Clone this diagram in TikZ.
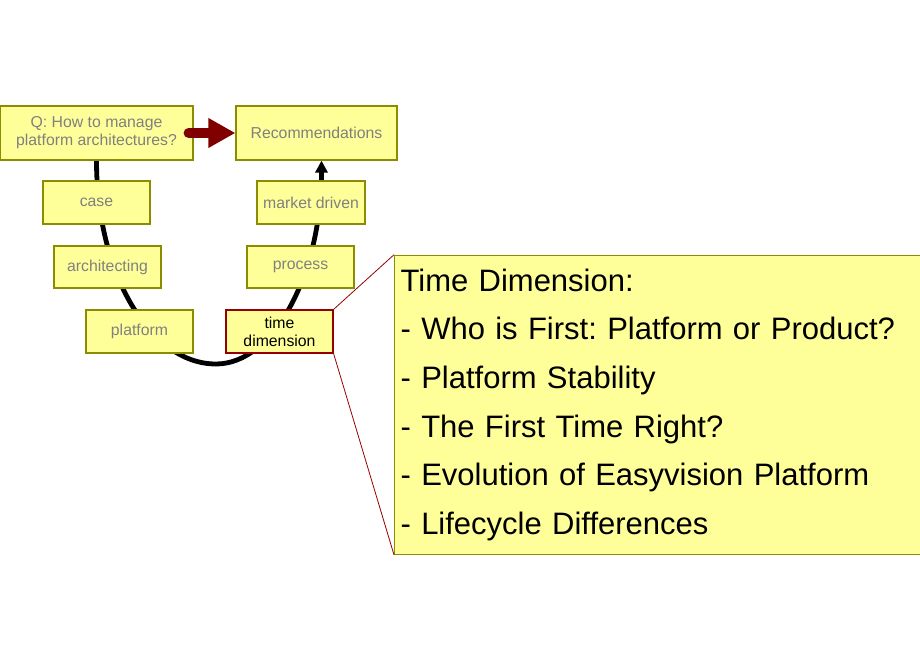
\documentclass[tikz,border=0pt]{standalone}
\usepackage{fontspec}
\setmainfont{Liberation Sans}
\usepackage{tikz}
\usetikzlibrary{positioning, arrows.meta, calc, backgrounds}

\definecolor{noteyellow}{RGB}{255,255,153}
\definecolor{noteolive}{RGB}{140,140,0}
\definecolor{notegray}{RGB}{128,128,128}
\definecolor{hotred}{RGB}{150,0,0}
\definecolor{arrowred}{RGB}{128,0,0}

\frenchspacing

\begin{document}
\begin{tikzpicture}[
  x=1pt, y=-1pt,
  every node/.style={font=\fontsize{15.8}{18}\selectfont},
  stepbox/.style={
    draw=noteolive, line width=1.2pt, fill=noteyellow, text=notegray,
    align=center, inner sep=0pt, minimum width=107pt, minimum height=43pt
  },
  hotbox/.style={stepbox, draw=hotred, text=black},
  notebox/.style={
    draw=noteolive, line width=1.2pt, fill=noteyellow, text=black,
    anchor=north west, align=left, inner xsep=6pt, inner ysep=0pt,
    text width=524pt, minimum height=299pt,
    font=\fontsize{31}{48.6}\selectfont
  },
  flow/.style={-{Triangle[length=12pt, width=12pt]}, line width=4.8pt, black},
  bigarr/.style={-{Triangle[length=27pt, width=28pt]}, line width=10pt,
    line cap=round, arrowred},
  callout/.style={hotred, line width=0.8pt}
]
\useasboundingbox (0,0) rectangle (920,660);

% question and answer
\node[stepbox, minimum width=193pt, minimum height=54pt] (quest) at (96.5,133)
  {Q: How to manage\\platform architectures?};
\node[stepbox, minimum width=161pt, minimum height=54pt] (recom) at (316.5,133)
  {Recommendations};

% left leg of the U
\node[stepbox] (case) at (96.5,202.5) {case};
\node[stepbox, minimum height=42pt] (archi) at (107.5,267) {architecting};
\node[stepbox] (platf) at (139.5,331.5) {platform};

% right leg of the U
\node[stepbox, minimum width=108pt] (market) at (311,202.5) {market driven};
\node[stepbox, minimum height=42pt] (proc) at (300.5,267) {process};
\node[hotbox] (timed) at (279.5,331.5) {time\\dimension};

% expanded note
\node[notebox] (note) at (394,254.7) {
  Time Dimension:\\
  - Who is First: Platform or Product?\\
  - Platform Stability\\
  - The First Time Right?\\
  - Evolution of Easyvision Platform\\
  - Lifecycle Differences
};

\coordinate (bottom) at (216,364);

% the U-shaped path behind the boxes
\begin{pgfonlayer}{background}
\draw[flow] (quest.south) .. controls +(0,113) and +(-66,0) .. (bottom)
  .. controls +(58,0) and +(0,113) .. ([xshift=5pt]recom.south);
\end{pgfonlayer}

\draw[bigarr] ([xshift=-5pt]quest.east) -- (recom.west);

% callout lines
\draw[callout] (timed.north east) -- (note.north west);
\draw[callout] (timed.south east) -- (note.south west);
\end{tikzpicture}
\end{document}
